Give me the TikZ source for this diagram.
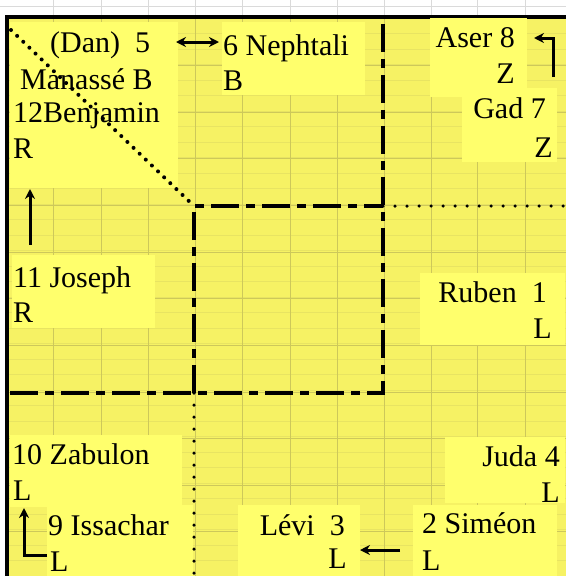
\documentclass[tikz,border=0pt]{standalone}
\usepackage{fontspec}
\setmainfont{Liberation Serif}
\usetikzlibrary{arrows.meta}
\definecolor{bgyellow}{RGB}{246,242,100}
\definecolor{boxyellow}{RGB}{255,255,108}
\definecolor{gridmajor}{RGB}{205,200,90}
\definecolor{gridminor}{RGB}{232,228,98}
\definecolor{lightgrid}{RGB}{218,218,218}
\begin{document}
\begin{tikzpicture}[x=1pt,y=-1pt,
  font=\fontsize{30}{36}\selectfont,
  lbl/.style={inner sep=0pt, anchor=base west},
  lblr/.style={inner sep=0pt, anchor=base east},
  tribebox/.style={fill=boxyellow},
  dashdotline/.style={line width=3.5pt, dash pattern=on 28pt off 7pt on 9pt off 7pt},
  dotline/.style={line width=3.5pt, line cap=round, dash pattern=on 0pt off 12pt},
  diagdots/.style={line width=4pt, line cap=round, dash pattern=on 0pt off 8.5pt},
  arr/.style={line width=3pt, -{Stealth[length=10pt,width=10pt]}},
  dblarr/.style={line width=3pt, {Stealth[length=10pt,width=10pt]}-{Stealth[length=10pt,width=10pt]}}]
\useasboundingbox (0,0) rectangle (566,576);
% background
\fill[white] (0,0) rectangle (566,576);
\fill[bgyellow] (5,15) rectangle (566,576);
\foreach \i in {1,...,36} \draw[gridminor, line width=0.8pt] (5,18+\i*15.5) -- (566,18+\i*15.5);
\foreach \y in {65,112,158,205,252,298,345,392,438,485,531} \draw[gridmajor, line width=0.9pt] (5,\y) -- (566,\y);
\foreach \x in {53,101,148,195,242,290,337,384,431,477,525} {
  \draw[gridmajor, line width=0.9pt] (\x,15) -- (\x,576);
  \draw[lightgrid, line width=0.8pt] (\x,0) -- (\x,15);
}
\draw[lightgrid, line width=0.8pt] (0,6) -- (566,6);
\draw[line width=4pt] (5,17) -- (566,17);
\draw[line width=4pt] (7,15) -- (7,576);
% boxes
\fill[tribebox] (10,22) rectangle (178,188);
\fill[tribebox] (222,22) rectangle (365,95);
\fill[tribebox] (430,18) rectangle (527,97);
\fill[tribebox] (462,88) rectangle (557,162);
\fill[tribebox] (12,255) rectangle (155,328);
\fill[tribebox] (420,273) rectangle (565,345);
\fill[tribebox] (10,435) rectangle (182,507);
\fill[tribebox] (47,505) rectangle (193,576);
\fill[tribebox] (238,505) rectangle (360,576);
\fill[tribebox] (445,437) rectangle (565,503);
\fill[tribebox] (413,505) rectangle (557,576);
% texts
\node[lbl] (dan) at (50,52) {(Dan)~~5};
\node[lbl] (manasse) at (20,89) {Manassé B};
\node[lbl] (benjamin) at (13,122) {12Benjamin};
\node[lbl] (benjaminr) at (13,158) {R};
\node[lbl] (nephtali) at (223,55) {6 Nephtali};
\node[lbl] (nephtalib) at (223,90) {B};
\node[lblr] (aser) at (515,47) {Aser 8};
\node[lblr] (aserz) at (515,83) {Z};
\node[lblr] (gad) at (546,118) {Gad 7};
\node[lblr] (gadz) at (553,157) {Z};
\node[lbl] (joseph) at (13,287) {11 Joseph};
\node[lbl] (josephr) at (13,322) {R};
\node[lblr] (ruben) at (547,302) {Ruben~~1};
\node[lblr] (rubenl) at (552,338) {L};
\node[lbl] (zabulon) at (12,464) {10 Zabulon};
\node[lbl] (zabulonl) at (13,500) {L};
\node[lbl] (issachar) at (48,535) {9 Issachar};
\node[lbl] (issacharl) at (50,571) {L};
\node[lblr] (levi) at (345,535) {Lévi~~3};
\node[lblr] (levil) at (347,568) {L};
\node[lblr] (juda) at (560,466) {Juda 4};
\node[lblr] (judal) at (560,502) {L};
\node[lbl] (simeon) at (422,533) {2 Siméon};
\node[lbl] (simeonl) at (422,570) {L};
% camp lines
\coordinate (sw) at (10,393);
\coordinate (sqbl) at (194,393);
\coordinate (sqbr) at (383,393);
\coordinate (sqtl) at (194,206);
\coordinate (sqtr) at (383,206);
\coordinate (toprt) at (383,18);
\coordinate (botl) at (194,576);
\coordinate (rightend) at (566,206);
\coordinate (diagstart) at (11,30);
\draw[dashdotline] (sw) -- (sqbr) -- (toprt);
\draw[dashdotline] (sqbl) -- (sqtl) -- (sqtr);
\draw[dotline] (sqbl) -- (botl);
\draw[dotline] (sqtr) -- (rightend);
\draw[diagdots] (diagstart) -- (sqtl);
% arrows
\coordinate (a1) at (176,42);
\coordinate (a2) at (219,42);
\draw[dblarr] (a1) -- (a2);
\coordinate (b1) at (553,77);
\coordinate (b2) at (553,38);
\coordinate (b3) at (534,38);
\draw[arr] (b1) -- (b2) -- (b3);
\coordinate (c1) at (30,245);
\coordinate (c2) at (30,189);
\draw[arr] (c1) -- (c2);
\coordinate (d1) at (47,555);
\coordinate (d2) at (24,555);
\coordinate (d3) at (24,508);
\draw[arr] (d1) -- (d2) -- (d3);
\coordinate (e1) at (400,550);
\coordinate (e2) at (360,550);
\draw[arr] (e1) -- (e2);
\end{tikzpicture}
\end{document}
